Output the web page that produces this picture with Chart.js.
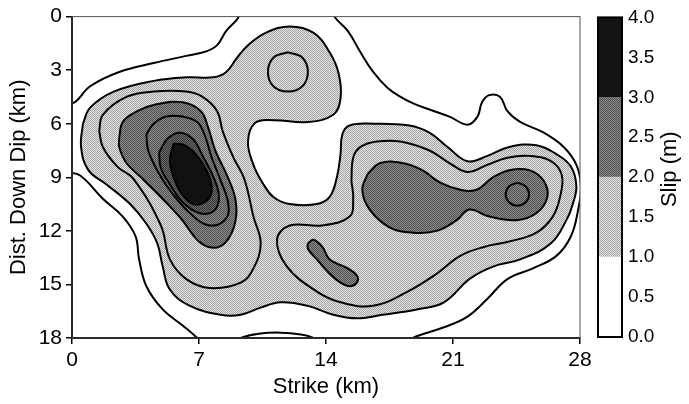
<!DOCTYPE html>
<html>
<head>
<meta charset="utf-8">
<script src="https://cdn.jsdelivr.net/npm/chart.js@4.4.1/dist/chart.umd.min.js"></script>
<style>
    html, body { margin: 0; padding: 0; background: #fff; }
    #wrap { position: relative; width: 689px; height: 404px; }
    #main { position: absolute; left: 0; top: 0; }
    #bar { position: absolute; left: 590px; top: 0; }
</style>
</head>
<body>
<div id="wrap">
    <canvas id="main" width="689" height="404"></canvas>
    <canvas id="bar" width="99" height="404"></canvas>
</div>
<script>
// axes
const strikeTicks = [0, 7, 14, 21, 28];
const dipTicks = [0, 3, 6, 9, 12, 15, 18];
const slipTicks = [0, 0.5, 1, 1.5, 2, 2.5, 3, 3.5, 4];
const slipBands = [1, 1, 1, 1]; // 0-1, 1-2, 2-3, 3-4 m

// contour lines, [strike km, down dip km]
const c05 = [[-0.6, 4.6], [0.05, 4.85], [1.0, 3.9], [2.6, 3.1], [4.5, 2.6], [6.3, 2.2], [7.4, 1.95], [8.0, 1.6], [8.5, 0.8], [9.1, 0.15], [9.6, -0.6],
    [14.2, -0.6], [14.5, 0.05], [15.2, 0.8], [15.9, 2.0], [16.6, 3.1], [17.4, 4.0], [18.2, 4.55], [18.9, 4.9], [19.7, 5.2], [20.8, 5.6], [21.8, 6.05],
    [22.35, 5.6], [22.6, 4.8], [23.0, 4.4], [23.6, 4.5], [24.0, 5.3], [24.7, 5.9], [26.0, 6.5], [27.1, 7.3], [27.8, 8.3], [28.05, 9.5], [27.9, 10.8],
    [27.5, 12.3], [26.7, 13.4], [25.4, 14.1], [24.0, 14.7], [22.9, 15.8], [21.8, 16.8], [20.5, 17.4], [19.0, 17.9], [18.0, 18.4],
    [13.8, 18.4], [13.3, 18.0], [12.6, 17.8], [11.5, 17.7], [10.4, 17.75], [9.3, 18.0], [8.8, 18.4],
    [7.2, 18.4], [6.9, 18.0], [6.1, 17.3], [5.0, 16.4], [4.1, 15.1], [3.7, 13.6], [3.5, 12.3], [2.8, 11.2], [1.7, 10.2], [0.45, 8.9], [-0.6, 8.5]];
const c10 = [[0.6, 6.0], [1.0, 5.1], [2.3, 4.2], [4.5, 3.6], [6.3, 3.4], [7.8, 3.4], [8.5, 3.1], [9.1, 2.3], [9.7, 1.6], [10.7, 0.9], [12.0, 0.55],
    [13.3, 0.9], [14.2, 2.0], [14.7, 3.2], [14.8, 4.6], [14.4, 5.5], [13.0, 5.9], [11.1, 5.8], [10.1, 5.95], [9.7, 7.0], [10.0, 8.3], [10.5, 9.3],
    [11.1, 10.1], [12.0, 10.5], [13.5, 10.5], [14.2, 10.1], [14.6, 9.0], [14.8, 7.7], [14.9, 6.6], [15.3, 6.1], [16.6, 6.0], [18.6, 6.1], [19.7, 6.5],
    [20.7, 7.3], [21.8, 8.1], [22.9, 7.8], [24.1, 7.3], [25.6, 7.2], [26.7, 7.7], [27.5, 8.4], [27.8, 9.5], [27.6, 10.5], [27.3, 11.3], [26.4, 12.7],
    [24.7, 13.6], [23.2, 14.0], [21.9, 14.7], [20.5, 16.0], [19.0, 16.4], [17.1, 16.7], [15.7, 16.9], [14.4, 16.7], [13.0, 16.2], [11.5, 16.0],
    [10.4, 16.3], [9.3, 16.7], [8.2, 16.7], [6.5, 16.2], [5.4, 15.3], [5.0, 14.0], [4.7, 12.7], [4.1, 11.6], [3.2, 10.5], [1.9, 9.4], [0.9, 8.6], [0.5, 7.3]];
const c15Top = [[11.9, 2.0], [12.7, 2.3], [13.0, 3.1], [12.7, 3.9], [11.9, 4.2], [11.1, 3.9], [10.8, 3.1], [11.1, 2.3]];
const c15Left = [[1.5, 6.4], [1.7, 5.5], [3.0, 4.5], [4.5, 4.2], [6.3, 4.2], [7.2, 4.5], [8.0, 5.3], [8.3, 6.4], [8.9, 7.9], [9.5, 9.1], [10.0, 11.2],
    [10.4, 12.7], [10.0, 14.1], [9.3, 14.9], [7.6, 15.2], [6.3, 14.7], [5.4, 13.6], [4.9, 11.7], [3.4, 9.1], [2.5, 8.4], [1.7, 7.3]];
const c15Right = [[15.4, 9.2], [15.5, 7.9], [15.9, 7.3], [16.8, 7.0], [18.1, 7.0], [19.7, 7.5], [20.8, 8.2], [21.8, 8.7], [22.9, 8.3], [24.0, 7.9],
    [25.2, 7.8], [26.4, 8.1], [27.0, 8.9], [26.9, 10.1], [26.5, 11.2], [25.6, 12.1], [24.1, 12.6], [22.7, 12.9], [21.4, 13.4], [20.1, 14.4],
    [18.5, 15.4], [16.6, 16.2], [14.8, 16.0], [13.5, 15.4], [11.85, 14.0], [11.3, 12.5], [12.0, 11.7], [13.8, 11.7], [15.3, 11.2], [15.5, 10.2]];
const c20Left = [[2.6, 6.8], [2.8, 5.9], [3.6, 5.3], [4.7, 4.9], [6.1, 4.8], [7.1, 5.3], [7.5, 6.2], [7.9, 7.5], [8.5, 8.8], [9.0, 10.2], [9.0, 11.5],
    [8.5, 12.6], [7.8, 12.95], [7.0, 12.6], [6.0, 11.3], [4.9, 10.1], [3.8, 9.0], [3.0, 8.2], [2.6, 7.3]];
const c20Mid = [[13.0, 12.7], [13.3, 12.5], [13.8, 12.9], [14.2, 13.6], [15.2, 14.1], [15.7, 14.5], [15.7, 14.9], [15.3, 15.1], [14.8, 14.9],
    [14.2, 14.4], [13.5, 13.6], [13.0, 13.0]];
const c20Right = [[16.3, 8.8], [17.0, 8.2], [18.2, 8.2], [19.3, 8.6], [20.3, 9.3], [21.4, 9.7], [22.3, 9.7], [23.2, 9.0], [24.1, 8.6], [25.2, 8.6],
    [26.0, 9.2], [26.2, 10.1], [25.6, 11.0], [24.5, 11.4], [23.0, 11.2], [21.9, 10.8], [21.2, 11.4], [20.1, 12.0], [18.8, 12.1], [17.5, 11.8],
    [16.4, 10.8], [16.0, 9.7]];
const c25Left = [[4.1, 6.6], [4.5, 6.0], [5.2, 5.6], [6.1, 5.6], [6.9, 5.9], [7.3, 6.6], [7.7, 7.9], [8.2, 9.2], [8.6, 10.4], [8.5, 11.3], [7.6, 11.7],
    [6.6, 11.1], [5.6, 10.0], [4.8, 8.8], [4.2, 7.5]];
const c25Right = [[24.55, 9.3], [25.0, 9.5], [25.2, 9.95], [25.0, 10.4], [24.55, 10.6], [24.1, 10.4], [23.9, 9.95], [24.1, 9.5]];
const c30Left = [[4.8, 7.6], [5.3, 6.8], [6.0, 6.5], [6.7, 6.9], [7.2, 7.8], [7.8, 9.0], [8.1, 10.1], [7.8, 10.9], [7.0, 11.0], [6.1, 10.4], [5.4, 9.4], [4.9, 8.5]];
const c35Left = [[5.6, 7.1], [6.2, 7.2], [6.9, 7.8], [7.5, 8.8], [7.7, 9.8], [7.3, 10.4], [6.7, 10.5], [6.1, 10.0], [5.6, 9.0], [5.4, 8.0]];

const fontFam = "'Liberation Sans', Arial, Helvetica, sans-serif";

function stipple(ctx, a, b) {
    let c = document.createElement('canvas');
    c.width = 2;
    c.height = 2;
    let g = c.getContext('2d');
    g.fillStyle = a;
    g.fillRect(0, 0, 2, 2);
    g.fillStyle = b;
    g.fillRect(0, 0, 1, 1);
    g.fillRect(1, 1, 1, 1);
    return ctx.createPattern(c, 'repeat');
}

function closed(arr) {
    let p = arr.map(v => ({ x: v[0], y: v[1] }));
    p.push({ x: arr[0][0], y: arr[0][1] });
    return p;
}

const mainCtx = document.getElementById('main').getContext('2d');
const light = stipple(mainCtx, '#e4e4e4', '#a4a4a4');
const medium = stipple(mainCtx, '#8c8c8c', '#505050');
const darker = stipple(mainCtx, '#6a6a6a', '#363636');

// drawn in this order, bottom first
let contours = [
    { label: '0.5', data: c05, fill: null },
    { label: '1.0', data: c10, fill: light },
    { label: '1.5', data: c15Top, fill: null },
    { label: '1.5', data: c15Left, fill: null },
    { label: '1.5', data: c15Right, fill: null },
    { label: '2.0', data: c20Left, fill: medium },
    { label: '2.0', data: c20Mid, fill: medium },
    { label: '2.0', data: c20Right, fill: medium },
    { label: '2.5', data: c25Left, fill: null },
    { label: '2.5', data: c25Right, fill: null },
    { label: '3.0', data: c30Left, fill: darker },
    { label: '3.5', data: c35Left, fill: '#111111' }
];

let datasets = contours.map((c, i) => ({
    label: c.label,
    data: closed(c.data),
    showLine: true,
    tension: 0.4,
    borderColor: '#000',
    borderWidth: 2,
    pointRadius: 0,
    backgroundColor: c.fill || 'rgba(0,0,0,0)',
    fill: c.fill ? 'shape' : false,
    clip: 0,
    order: contours.length - i
}));

const framePlugin = {
    id: 'frame',
    afterDatasetsDraw(chart, args, opts) {
        let a = chart.chartArea;
        let ctx = chart.ctx;
        ctx.save();
        ctx.strokeStyle = opts.color || '#000';
        ctx.lineWidth = opts.width || 1;
        ctx.strokeRect(a.left, a.top, a.right - a.left, a.bottom - a.top);
        ctx.restore();
    }
};

let config = {
    type: 'scatter',
    data: { datasets: datasets },
    options: {
        responsive: false,
        animation: false,
        events: [],
        layout: { padding: { left: 0, right: 109, top: 16, bottom: 0 } },
        plugins: {
            legend: { display: false },
            tooltip: { enabled: false },
            frame: { color: '#555', width: 1 }
        },
        scales: {
            x: {
                type: 'linear',
                min: strikeTicks[0],
                max: strikeTicks[strikeTicks.length - 1],
                z: 1,
                afterBuildTicks: s => { s.ticks = strikeTicks.map(v => ({ value: v })); },
                afterFit: s => { s.height = 66; },
                ticks: { color: '#000', font: { family: fontFam, size: 21 }, padding: 4, maxRotation: 0 },
                grid: { drawOnChartArea: false, drawTicks: true, tickLength: 6, color: '#000', lineWidth: 1.5 },
                border: { display: true, color: '#000', width: 2 },
                title: { display: true, text: 'Strike (km)', color: '#000', font: { family: fontFam, size: 22 }, padding: { top: 0, bottom: 4 } }
            },
            y: {
                type: 'linear',
                reverse: true,
                min: dipTicks[0],
                max: dipTicks[dipTicks.length - 1],
                z: 1,
                afterBuildTicks: s => { s.ticks = dipTicks.map(v => ({ value: v })); },
                afterFit: s => { s.width = 72; },
                ticks: { color: '#000', font: { family: fontFam, size: 21 }, padding: 4 },
                grid: { drawOnChartArea: false, drawTicks: true, tickLength: 6, color: '#000', lineWidth: 1.5 },
                border: { display: true, color: '#000', width: 2 },
                title: { display: true, text: 'Dist. Down Dip (km)', color: '#000', font: { family: fontFam, size: 22 }, padding: { top: 6, bottom: 0 } }
            }
        }
    },
    plugins: [framePlugin]
};
new Chart(document.getElementById('main'), config);

// colour bar
const barCtx = document.getElementById('bar').getContext('2d');
const bandColors = ['#ffffff', stipple(barCtx, '#e4e4e4', '#a4a4a4'), stipple(barCtx, '#8c8c8c', '#505050'), '#141414'];

const barTitle = {
    id: 'barTitle',
    afterDraw(chart) {
        let ctx = chart.ctx;
        let a = chart.chartArea;
        ctx.save();
        ctx.translate(80, (a.top + a.bottom) / 2 - 8);
        ctx.rotate(-Math.PI / 2);
        ctx.fillStyle = '#000';
        ctx.font = '22px ' + fontFam;
        ctx.textAlign = 'center';
        ctx.textBaseline = 'middle';
        ctx.fillText('Slip (m)', 0, 0);
        ctx.restore();
    }
};

let barConfig = {
    type: 'bar',
    data: {
        labels: ['slip'],
        datasets: slipBands.map((v, i) => ({
            data: [v],
            backgroundColor: bandColors[i],
            borderWidth: 0,
            barPercentage: 1,
            categoryPercentage: 1,
            stack: 's'
        }))
    },
    options: {
        responsive: false,
        animation: false,
        events: [],
        layout: { padding: { left: 8, right: 0, top: 15, bottom: 67 } },
        plugins: {
            legend: { display: false },
            tooltip: { enabled: false },
            frame: { color: '#000', width: 2 }
        },
        scales: {
            x: { display: false, stacked: true },
            y: {
                stacked: true,
                position: 'right',
                min: slipTicks[0],
                max: slipTicks[slipTicks.length - 1],
                afterBuildTicks: s => { s.ticks = slipTicks.map(v => ({ value: v })); },
                afterFit: s => { s.width = 67; },
                ticks: { color: '#000', font: { family: fontFam, size: 19 }, padding: 6, callback: v => v.toFixed(1) },
                grid: { drawOnChartArea: false, drawTicks: false },
                border: { display: false }
            }
        }
    },
    plugins: [framePlugin, barTitle]
};
new Chart(document.getElementById('bar'), barConfig);
</script>
</body>
</html>
